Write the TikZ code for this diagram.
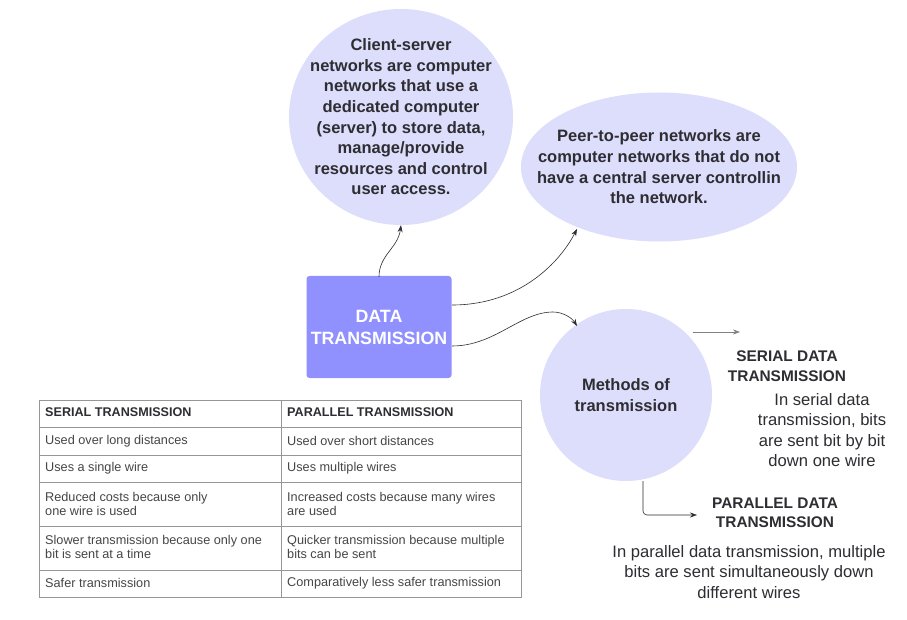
\documentclass[tikz,border=0pt]{standalone}
\usepackage{fontspec}
\setmainfont{Liberation Sans}
\usetikzlibrary{arrows.meta,calc,shapes.geometric}
\definecolor{bubble}{RGB}{221,221,252}
\definecolor{boxfill}{RGB}{144,144,255}
\definecolor{txt}{RGB}{45,45,50}
\definecolor{tabtxt}{RGB}{70,70,70}
\definecolor{tabline}{RGB}{150,150,150}
\begin{document}
\begin{tikzpicture}[x=1pt,y=-1pt,
  bubbletext/.style={text=txt,align=center,font=\bfseries\fontsize{16.5}{20.6}\selectfont},
  conn/.style={draw=txt,line width=0.6pt,-{Stealth[length=7pt,width=5pt]}},
  celltext/.style={anchor=west,align=left,text=tabtxt,inner sep=0pt,font=\fontsize{12.7}{14.5}\selectfont},
  headtext/.style={anchor=west,align=left,text=txt,inner sep=0pt,font=\bfseries\fontsize{12.6}{14}\selectfont},
  bodytext/.style={text=txt,align=center,font=\fontsize{16.6}{20.5}\selectfont},
  labeltext/.style={text=txt,align=center,font=\bfseries\fontsize{15.4}{19.5}\selectfont}]
\useasboundingbox (0,0) rectangle (907,620);
\fill[white] (0,0) rectangle (907,620);
% bubbles
\node[ellipse,fill=bubble,minimum width=224pt,minimum height=216pt,inner sep=0pt] (cs) at (401,117) {};
\node[bubbletext] at (cs.center) {Client-server\\networks are computer\\networks that use a\\dedicated computer\\(server) to store data,\\manage/provide\\resources and control\\user access.};
\node[ellipse,fill=bubble,minimum width=276pt,minimum height=149pt,inner sep=0pt] (pp) at (659,167) {};
\node[bubbletext] at (pp.center) {Peer-to-peer networks are\\computer networks that do not\\have a central server controllin\\the network.};
\node[circle,fill=bubble,minimum size=172pt,inner sep=0pt] (mt) at (626,395) {};
\node[bubbletext] (mtt) at (mt.center) {Methods of\\transmission};
% main box
\node[fill=boxfill,rounded corners=3pt,minimum width=145pt,minimum height=102pt,inner sep=0pt,
  text=white,align=center,font=\bfseries\fontsize{17.8}{22}\selectfont] (dt) at (379,327) {DATA\\TRANSMISSION};
% side texts
\node[labeltext] (sl) at (787,366) {SERIAL DATA\\TRANSMISSION};
\node[bodytext] (sb) at (822,430) {In serial data\\transmission, bits\\are sent bit by bit\\down one wire};
\node[labeltext] (pl) at (775,513) {PARALLEL DATA\\TRANSMISSION};
\node[bodytext] (pb) at (749,572) {In parallel data transmission, multiple\\bits are sent simultaneously down\\different wires};
% connector coordinates
\coordinate (a2s) at (452,305);
\coordinate (a2e) at (577,229);
\coordinate (a3s) at (452,346);
\coordinate (a3m) at (553,312);
\coordinate (a3e) at (577,326);
\coordinate (a4s) at (693,332);
\coordinate (a4e) at (740,332);
\coordinate (a5s) at (643,481);
\coordinate (a5e) at (697,515);
\draw[conn] ($(dt.north)+(0,1)$) .. controls (379,255) and (398,248) .. (cs.south);
\draw[conn] (a2s) .. controls (520,305) and (560,262) .. (a2e);
\draw[conn] (a3s) .. controls (495,346) and (520,312) .. (a3m) .. controls (563,312) and (572,318) .. (a3e);
\draw[conn,draw=gray] (a4s) -- (a4e);
\draw[conn,rounded corners=4pt] (a5s) |- (a5e);
% table
\draw[tabline,line width=0.6pt] (39,400) rectangle (521,597);
\foreach \yy in {427,455,482,526,570} \draw[tabline,line width=0.6pt] (39,\yy) -- (521,\yy);
\draw[tabline,line width=0.6pt] (281,400) -- (281,597);
\node[headtext] (h1) at (45,412) {SERIAL TRANSMISSION};
\node[headtext] (h2) at (287,412) {PARALLEL TRANSMISSION};
\node[celltext] (c11) at (45,441) {Used over long distances};
\node[celltext] (c12) at (287,441) {Used over short distances};
\node[celltext] (c21) at (45,468) {Uses a single wire};
\node[celltext] (c22) at (287,468) {Uses multiple wires};
\node[celltext] (c31) at (45,504) {Reduced costs because only\\one wire is used};
\node[celltext] (c32) at (287,504) {Increased costs because many wires\\are used};
\node[celltext] (c41) at (45,547) {Slower transmission because only one\\bit is sent at a time};
\node[celltext] (c42) at (287,547) {Quicker transmission because multiple\\bits can be sent};
\node[celltext] (c51) at (45,583) {Safer transmission};
\node[celltext] (c52) at (287,583) {Comparatively less safer transmission};
\end{tikzpicture}
\end{document}
